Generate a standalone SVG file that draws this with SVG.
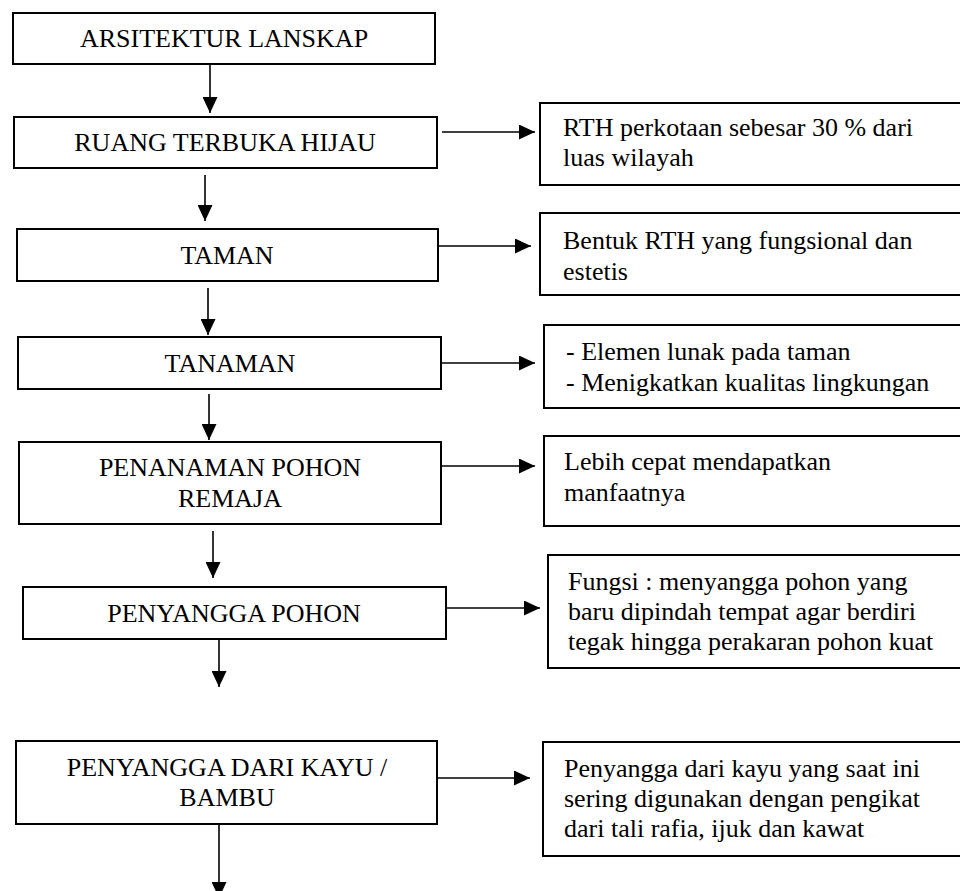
<svg xmlns="http://www.w3.org/2000/svg" width="960" height="891" viewBox="0 0 960 891">
<style>
.box{fill:#fff;stroke:#000;stroke-width:2}
.t{font-family:"Liberation Serif","Times New Roman",serif;font-size:26px;fill:#000}
.c{text-anchor:middle}
.ln{stroke:#000;stroke-width:1.6;fill:none;marker-end:url(#ah)}
</style>
<defs>
<marker id="ah" markerUnits="userSpaceOnUse" markerWidth="16" markerHeight="15" refX="16" refY="7.5" orient="auto">
<path d="M0,0 L16,7.5 L0,15 z" fill="#000"/>
</marker>
</defs>
<rect width="960" height="891" fill="#fff"/>
<g id="n1"><rect class="box" x="13" y="13" width="422" height="51"/><text class="t c" x="224" y="47">ARSITEKTUR LANSKAP</text></g>
<g id="n2"><rect class="box" x="14" y="117" width="423" height="51"/><text class="t c" x="225" y="151">RUANG TERBUKA HIJAU</text></g>
<g id="n3"><rect class="box" x="17" y="229" width="421" height="52"/><text class="t c" x="227" y="264">TAMAN</text></g>
<g id="n4"><rect class="box" x="18" y="337" width="423" height="52"/><text class="t c" x="230" y="372">TANAMAN</text></g>
<g id="n5"><rect class="box" x="19" y="442" width="422" height="82"/><text class="t c" x="230" y="476">PENANAMAN POHON</text><text class="t c" x="230" y="507">REMAJA</text></g>
<g id="n6"><rect class="box" x="23" y="587" width="423" height="52"/><text class="t c" x="234" y="622">PENYANGGA POHON</text></g>
<g id="n7"><rect class="box" x="16" y="741" width="421" height="83"/><text class="t c" x="227" y="776">PENYANGGA DARI KAYU /</text><text class="t c" x="227" y="806">BAMBU</text></g>
<g id="r1"><rect class="box" x="540" y="103" width="430" height="82"/><text class="t" x="563" y="136">RTH perkotaan sebesar 30 % dari</text><text class="t" x="563" y="166">luas wilayah</text></g>
<g id="r2"><rect class="box" x="540" y="213" width="430" height="82"/><text class="t" x="563" y="249">Bentuk RTH yang fungsional dan</text><text class="t" x="563" y="280">estetis</text></g>
<g id="r3"><rect class="box" x="544" y="325" width="430" height="83"/><text class="t" x="566" y="360">- Elemen lunak pada taman</text><text class="t" x="566" y="391">- Menigkatkan kualitas lingkungan</text></g>
<g id="r4"><rect class="box" x="544" y="436" width="430" height="90"/><text class="t" x="564" y="470">Lebih cepat mendapatkan</text><text class="t" x="564" y="501">manfaatnya</text></g>
<g id="r5"><rect class="box" x="548" y="555" width="430" height="113"/><text class="t" x="568" y="590">Fungsi : menyangga pohon yang</text><text class="t" x="568" y="620">baru dipindah tempat agar berdiri</text><text class="t" x="568" y="650">tegak hingga perakaran pohon kuat</text></g>
<g id="r6"><rect class="box" x="543" y="742" width="430" height="114"/><text class="t" x="564" y="777">Penyangga dari kayu yang saat ini</text><text class="t" x="564" y="807">sering digunakan dengan pengikat</text><text class="t" x="564" y="837">dari tali rafia, ijuk dan kawat</text></g>
<g id="connectors">
<line class="ln" x1="210" y1="64" x2="210" y2="113"/>
<line class="ln" x1="205" y1="175" x2="205" y2="221"/>
<line class="ln" x1="208" y1="288" x2="208" y2="335"/>
<line class="ln" x1="209" y1="394" x2="209" y2="440"/>
<line class="ln" x1="213" y1="531" x2="213" y2="578"/>
<line class="ln" x1="219" y1="639" x2="219" y2="687"/>
<line class="ln" x1="219" y1="824" x2="219" y2="898"/>
<line class="ln" x1="442" y1="132" x2="535" y2="132"/>
<line class="ln" x1="438" y1="246" x2="531" y2="246"/>
<line class="ln" x1="441" y1="363" x2="535" y2="363"/>
<line class="ln" x1="441" y1="466" x2="535" y2="466"/>
<line class="ln" x1="446" y1="608" x2="540" y2="608"/>
<line class="ln" x1="437" y1="778" x2="530" y2="778"/>
</g>
</svg>
